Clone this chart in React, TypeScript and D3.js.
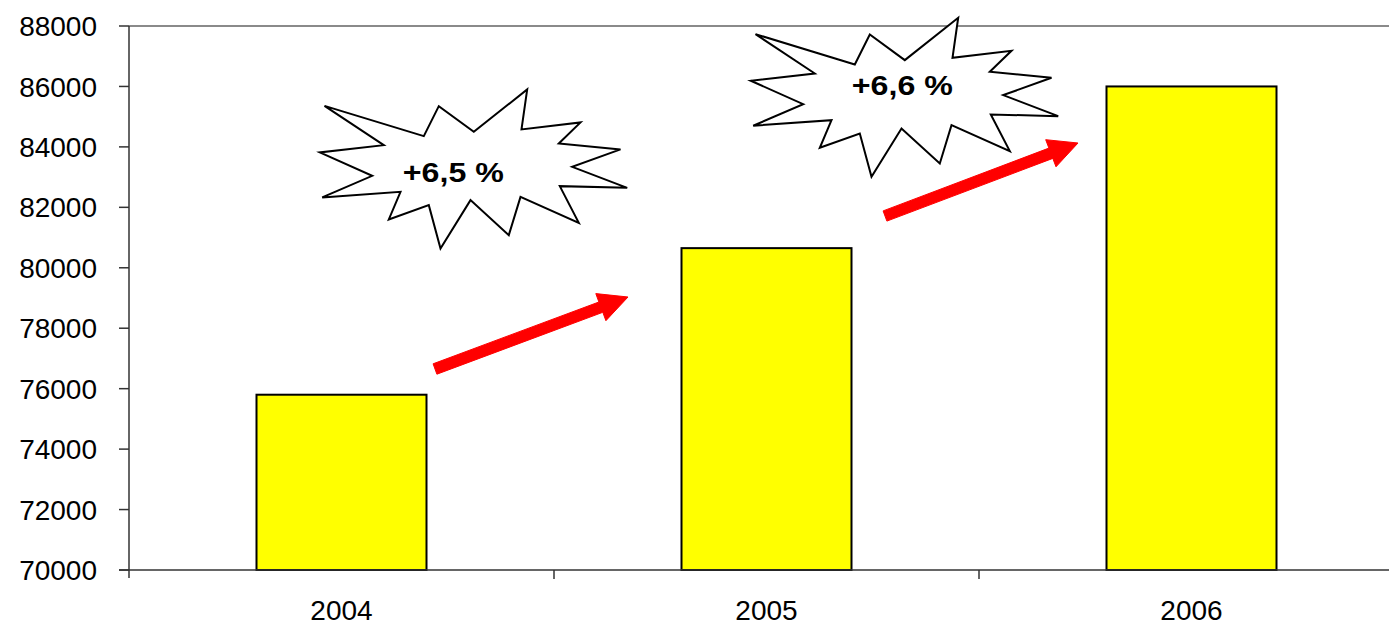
import React from "react";
import * as d3 from "d3";

const years = ["2004", "2005", "2006"];
const values = [75800, 80650, 86000];
const yTicks = [70000, 72000, 74000, 76000, 78000, 80000, 82000, 84000, 86000, 88000];
const growthLabels = ["+6,5 %", "+6,6 %"];

// starburst outline, relative to its own centre
const burst: [number, number][] = [
  [324, 105.7], [423.3, 136], [438.3, 106], [473.3, 131.7], [526.7, 89.3], [521, 129.3],
  [580, 122.3], [558.3, 143.3], [620, 149.3], [571.7, 166.7], [626.7, 187.7], [559.3, 186],
  [578.3, 222.7], [520, 196.7], [508.3, 235], [470, 200], [440, 248.3], [428.3, 205],
  [388.3, 219.3], [400, 191.7], [321.7, 197.3], [371.7, 175.7], [319.3, 152.3], [383.3, 145],
].map(([x, y]) => [x - 473, y - 169] as [number, number]);

const W = 1389;
const H = 624;

function arrowPath(x0: number, y0: number, x1: number, y1: number) {
  const dx = x1 - x0, dy = y1 - y0;
  const L = Math.hypot(dx, dy);
  const ux = dx / L, uy = dy / L;
  const nx = -uy, ny = ux;
  const sw = 5.5, hl = 29, hw = 14.5;
  const bx = x1 - ux * hl, by = y1 - uy * hl;
  const pts = [
    [x0 + nx * sw, y0 + ny * sw],
    [bx + nx * sw, by + ny * sw],
    [bx + nx * hw, by + ny * hw],
    [x1, y1],
    [bx - nx * hw, by - ny * hw],
    [bx - nx * sw, by - ny * sw],
    [x0 - nx * sw, y0 - ny * sw],
  ];
  return "M" + pts.map((p) => p[0].toFixed(1) + "," + p[1].toFixed(1)).join("L") + "Z";
}

export default function App() {
  const x = d3.scaleBand<string>().domain(years).range([129, 1404]).padding(0);
  const y = d3.scaleLinear().domain([70000, 88000]).range([570, 26]);
  const bw = x.bandwidth() * 0.4;
  const font = "Liberation Sans, Arial, sans-serif";

  // annotation placement (between consecutive bars)
  const bursts = [
    { cx: x("2005")! - 80.5, cy: y(80650) - 79, tx: -20.2, ty: 13.3 },
    { cx: x("2006")! - 74.5, cy: y(86000) + 11, tx: -2.2, ty: -2.7 },
  ];
  const arrows = [
    { x0: 435, y0: 369, x1: 628, y1: 297 },
    { x0: 885, y0: 216, x1: 1078, y1: 143 },
  ];

  const burstPath = "M" + burst.map((p) => p.join(",")).join("L") + "Z";

  return (
    <div style={{ position: "absolute", left: 0, top: 0 }}>
      <svg width={W} height={H} style={{ display: "block", background: "#fff" }}>
        {/* top border line */}
        <line x1={129} x2={W} y1={y(88000)} y2={y(88000)} stroke="#8a8a8a" strokeWidth={2} />
        {/* bars */}
        {years.map((yr, i) => {
          const cx = x(yr)! + x.bandwidth() / 2;
          return (
            <rect
              key={yr}
              x={cx - bw / 2}
              y={y(values[i])}
              width={bw}
              height={y(70000) - y(values[i])}
              fill="#ffff00"
              stroke="#000"
              strokeWidth={2}
            />
          );
        })}
        {/* y axis */}
        <line x1={129} x2={129} y1={y(88000)} y2={y(70000) + 8} stroke="#333" strokeWidth={1.5} />
        {yTicks.map((t) => (
          <g key={t}>
            <line x1={119} x2={129} y1={y(t)} y2={y(t)} stroke="#333" strokeWidth={1.5} />
            <text x={97} y={y(t)} dy="0.36em" textAnchor="end" fontFamily={font} fontSize={28} fill="#000">
              {t}
            </text>
          </g>
        ))}
        {/* x axis */}
        <line x1={119} x2={W} y1={y(70000)} y2={y(70000)} stroke="#333" strokeWidth={1.5} />
        {years.slice(1).map((yr) => (
          <line key={yr} x1={x(yr)!} x2={x(yr)!} y1={y(70000)} y2={y(70000) + 9} stroke="#333" strokeWidth={1.5} />
        ))}
        {years.map((yr) => (
          <text
            key={yr}
            x={x(yr)! + x.bandwidth() / 2}
            y={619.5}
            textAnchor="middle"
            fontFamily={font}
            fontSize={28}
            fill="#000"
          >
            {yr}
          </text>
        ))}
        {/* arrows */}
        {arrows.map((a, i) => (
          <path
            key={i}
            d={arrowPath(a.x0, a.y0, a.x1, a.y1)}
            fill="#ff0000"
            stroke="#ff0000"
            strokeWidth={1}
            strokeLinejoin="round"
          />
        ))}
        {/* starbursts */}
        {bursts.map((b, i) => (
          <g key={i} transform={`translate(${b.cx},${b.cy})`}>
            <path d={burstPath} fill="#fff" stroke="#000" strokeWidth={2} strokeLinejoin="miter" />
            <text
              x={b.tx - 50.5}
              y={b.ty}
              textAnchor="start"
              fontFamily={font}
              fontSize={28}
              fontWeight="bold"
              textLength={101}
              lengthAdjust="spacingAndGlyphs"
              fill="#000"
            >
              {growthLabels[i]}
            </text>
          </g>
        ))}
      </svg>
    </div>
  );
}
